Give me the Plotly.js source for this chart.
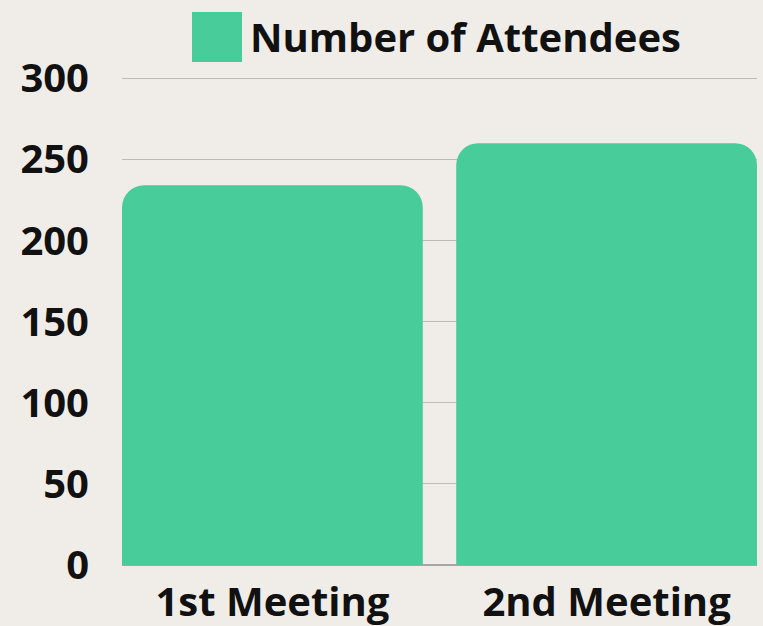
<!DOCTYPE html>
<html>
<head>
<meta charset="utf-8">
<script src="https://cdn.plot.ly/plotly-3.0.1.min.js"></script>
<style>html,body{margin:0;padding:0;background:#F0EDE8;}#chart{width:763px;height:626px;}</style>
</head>
<body>
<div id="chart"></div>
<script>
const categories = ["1st Meeting", "2nd Meeting"];
const attendees = [234, 260];
const seriesName = "Number of Attendees";
const yTicks = [0, 50, 100, 150, 200, 250, 300];

const fontFam = "'Open Sans', Lato, sans-serif";
const barColor = "#48CD9A";
const H = 490;

const trace = {
  type: "bar",
  x: categories,
  y: attendees,
  name: seriesName,
  marker: {color: barColor},
  showlegend: false,
  hoverinfo: "x+y"
};

const layout = {
  width: 763,
  height: 626,
  paper_bgcolor: "#F0EDE8",
  plot_bgcolor: "#F0EDE8",
  margin: {l: 122, r: 6, t: 75, b: 61},
  bargap: 0.1,
  barcornerradius: 22,
  font: {family: fontFam, color: "#111", size: 40, weight: 700},
  xaxis: {
    range: [-0.45, 1.45],
    showgrid: false,
    zeroline: false,
    showline: false,
    tickfont: {family: fontFam, size: 40, color: "#111", weight: 700},
    ticks: "",
    ticklabelstandoff: 10
  },
  yaxis: {
    range: [0, 302],
    tickvals: yTicks,
    ticktext: yTicks.map(String),
    showgrid: true,
    gridcolor: "#BDBBB7",
    gridwidth: 1,
    zeroline: true,
    zerolinecolor: "#A8A6A2",
    zerolinewidth: 2,
    showline: false,
    ticks: "",
    tickfont: {family: fontFam, size: 40, color: "#111", weight: 700},
    ticklabelstandoff: 32
  },
  shapes: [{
    type: "rect", xref: "paper", yref: "paper",
    x0: (192 - 122) / 635, x1: (242 - 122) / 635,
    y0: (565 - 62) / H, y1: (565 - 12) / H,
    fillcolor: barColor, line: {width: 0}
  }],
  annotations: [{
    xref: "paper", yref: "paper",
    x: (248 - 122) / 635, y: (565 - 37) / H,
    xanchor: "left", yanchor: "middle",
    text: seriesName, showarrow: false,
    font: {family: fontFam, size: 40, color: "#111", weight: 700}
  }]
};

Plotly.newPlot("chart", [trace], layout, {displayModeBar: false, staticPlot: true});
</script>
</body>
</html>
